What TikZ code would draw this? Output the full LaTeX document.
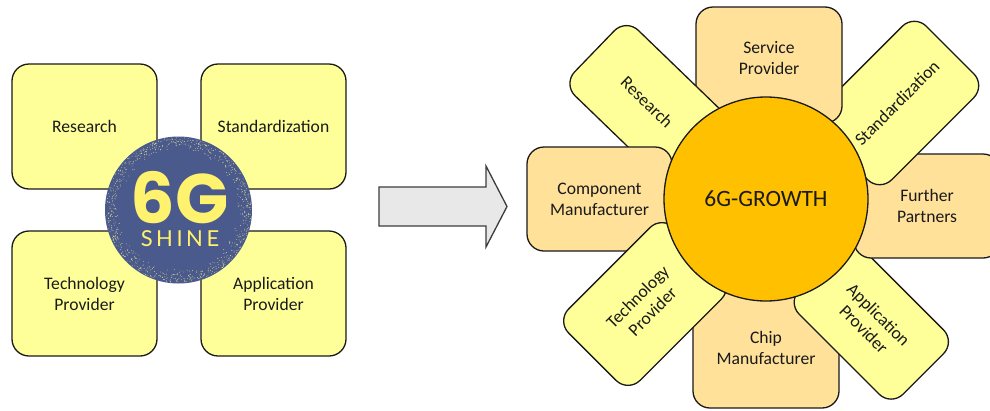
\documentclass[tikz,border=0pt]{standalone}
\usepackage{fontspec}
\setmainfont{Carlito}
\newfontfamily\logofont{Poppins}
\newfontfamily\shinefont[LetterSpace=16]{Lato}
\definecolor{paleyellow}{HTML}{FFFF99}
\definecolor{paleorange}{HTML}{FFE199}
\definecolor{hubgold}{HTML}{FFC000}
\definecolor{logoblue}{HTML}{4A5A8C}
\definecolor{logoyellow}{HTML}{FFF26E}
\definecolor{inkdark}{HTML}{1A1A1A}
\tikzset{
  petal/.style={draw=inkdark,line width=1.3pt,rounded corners=17pt,align=center,
    text=inkdark,font=\fontsize{17.6}{21}\selectfont,inner sep=0pt},
  ybox/.style={petal,fill=paleyellow},
  obox/.style={petal,fill=paleorange},
  hub/.style={circle,draw=inkdark,line width=1.3pt,fill=hubgold,inner sep=0pt,
    minimum size=204pt,text=inkdark,font=\fontsize{23.4}{26}\selectfont},
  logodisc/.style={circle,fill=logoblue,inner sep=0pt,minimum size=147pt},
  blockarrow/.style={draw=inkdark!85,line width=1.3pt,fill=black!9,line join=miter},
}
\begin{document}
\begin{tikzpicture}[x=1pt,y=-1pt]
\clip (0,0) rectangle (990,410);
\fill[white] (0,0) rectangle (990,410);
% left cluster
\node[ybox,minimum width=145pt,minimum height=125pt] (lres) at (84.5,126.5) {Research};
\node[ybox,minimum width=145pt,minimum height=125pt] (lstd) at (273.5,126.5) {Standardization};
\node[ybox,minimum width=145pt,minimum height=125pt] (ltec) at (84.5,293.5) {Technology\\Provider};
\node[ybox,minimum width=145pt,minimum height=125pt] (lapp) at (273.5,293.5) {Application\\Provider};
\node[logodisc] (logo) at (178.5,210) {};
\pgfmathsetseed{11}
\foreach \i in {1,...,800}{
  \pgfmathsetmacro{\ang}{rnd*360}
  \pgfmathsetmacro{\rad}{59+13.5*sqrt(rnd)}
  \fill[logoyellow!75!white,opacity=.8] ([shift={(\ang:\rad pt)}]logo.center) circle (0.42pt);
}
\node[text=logoyellow,font=\logofont\bfseries\fontsize{70}{70}\selectfont,inner sep=0pt] (sixg) at (179.5,198) {6G};
\node[text=logoyellow,font=\shinefont\fontsize{22}{22}\selectfont,inner sep=0pt] (shine) at (180,239) {SHINE};
% block arrow
\draw[blockarrow] (379,187) -- (486,187) -- (486,166) -- (507,206.5) -- (486,247) -- (486,226) -- (379,226) -- cycle;
% right flower, back to front
\node[obox,minimum width=146pt,minimum height=120pt] (chip) at (766,348) {Chip\\Manufacturer};
\node[ybox,minimum width=147pt,minimum height=91pt,rotate=-45] (rapp) at (871.3,322) {Application\\Provider};
\node[obox,minimum width=146pt,minimum height=104pt] (furt) at (927,206) {Further\\Partners};
\node[ybox,minimum width=150pt,minimum height=101pt,rotate=45] (rstd) at (897,103) {Standardization};
\node[obox,minimum width=146pt,minimum height=116pt,
  label={[text=inkdark,font=\fontsize{17.6}{21}\selectfont,align=center,yshift=7pt]center:Service\\Provider}] (serv) at (769,65) {};
\node[ybox,minimum width=146pt,minimum height=91pt,rotate=-44] (rres) at (647,102) {Research};
\node[obox,minimum width=145pt,minimum height=104pt] (comp) at (599.5,199) {Component\\Manufacturer};
\node[ybox,minimum width=149pt,minimum height=101pt,rotate=45] (rtec) at (645,304) {Technology\\Provider};
\node[hub] (growth) at (766,199) {6G-GROWTH};
\end{tikzpicture}
\end{document}
